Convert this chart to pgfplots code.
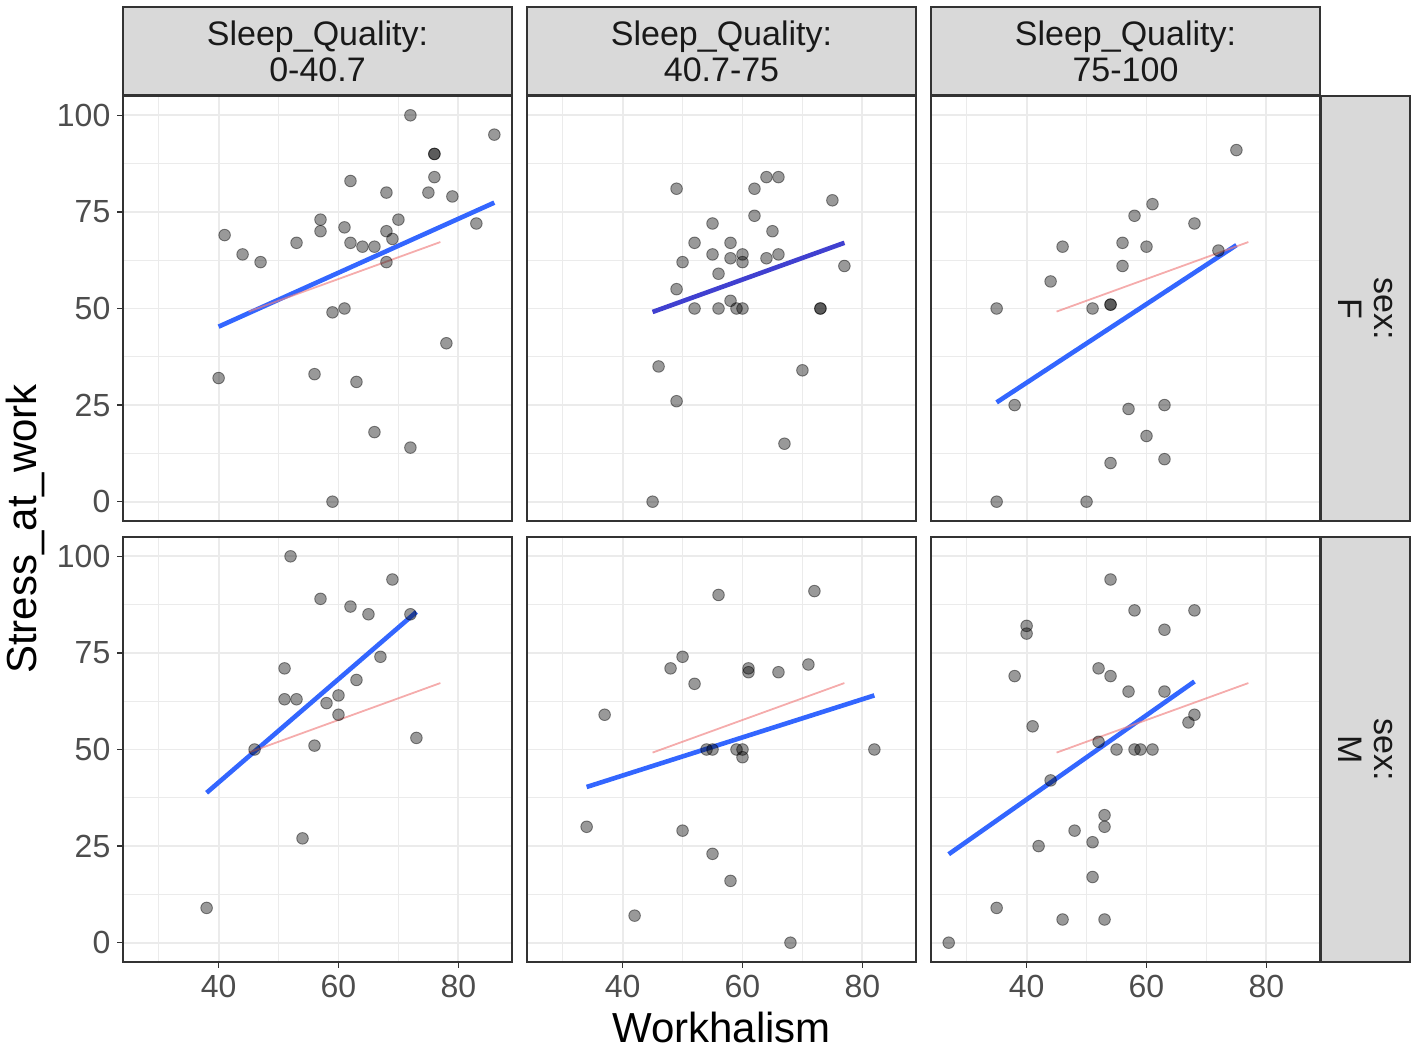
\documentclass[border=0pt]{standalone}
\usepackage{fontspec}
\setmainfont{Liberation Sans}
\usepackage{pgfplots}
\pgfplotsset{compat=1.18}
\definecolor{smoothc}{HTML}{3366FF}
\definecolor{smoothp}{HTML}{4040D0}
\definecolor{overallc}{HTML}{F08080}
\definecolor{gridc}{HTML}{EBEBEB}
\definecolor{borderc}{HTML}{333333}
\definecolor{tickc}{HTML}{4D4D4D}
\definecolor{stripc}{HTML}{D9D9D9}
\newcommand{\ticksize}{\fontsize{16}{16}\selectfont}
\newcommand{\stripsize}{\fontsize{17}{18}\selectfont}
\newcommand{\titlesize}{\fontsize{21}{21}\selectfont}
\pgfplotsset{
  facet/.style={
    scale only axis, width=194.5pt, height=212.5pt, anchor=south west,
    xmin=24.05, xmax=88.95, ymin=-5, ymax=105,
    xtick={40,60,80}, ytick={0,25,50,75,100},
    minor xtick={30,50,70}, minor ytick={12.5,37.5,62.5,87.5},
    grid=both,
    major grid style={draw=gridc, line width=0.9pt},
    minor grid style={draw=gridc, line width=0.5pt},
    axis line style={draw=borderc, line width=0.6pt},
    tick align=outside, major tick length=2.8pt, minor tick length=0pt,
    tick style={draw=borderc, line width=0.6pt},
    xtick pos=bottom, ytick pos=left,
    xticklabels={,,}, yticklabels={,,,,},
    xticklabel style={font=\ticksize, text=tickc},
    yticklabel style={font=\ticksize, text=tickc},
  },
  noxticks/.style={xtick style={draw=none}},
  noyticks/.style={ytick style={draw=none}},
  xlab/.style={xticklabels={40,60,80}},
  ylab/.style={yticklabels={0,25,50,75,100}},
  pts/.style={only marks, mark=*, mark size=2.9pt,
    mark options={fill=black, fill opacity=0.4, draw=black, draw opacity=0.45, line width=0.45pt}},
  fitline/.style={no marks, draw=smoothc, line width=2.3pt},
  overall/.style={no marks, draw=overallc, draw opacity=0.65, line width=0.9pt},
}
\begin{document}
\begin{tikzpicture}
\path[use as bounding box] (0pt,0pt) rectangle (708.5pt,525pt);

% ---------- Row 1: sex F ----------
\begin{axis}[facet, ylab, noxticks, at={(61.5pt,264.5pt)}]
\addplot[pts] coordinates {(72,100) (86,95) (76,90) (76,90) (76,84) (62,83) (68,80) (75,80) (79,79) (57,73) (70,73) (83,72) (41,69) (57,70) (61,71) (68,70) (69,68) (53,67) (62,67) (64,66) (66,66) (44,64) (47,62) (68,62) (59,49) (61,50) (78,41) (40,32) (56,33) (63,31) (66,18) (72,14) (59,0)};
\addplot[fitline] coordinates {(40,45.3) (86,77.4)};
\addplot[overall] coordinates {(45,49.2) (77,67.2)};
\end{axis}

\begin{axis}[facet, noxticks, noyticks, at={(263.5pt,264.5pt)}]
\addplot[pts] coordinates {(49,81) (64,84) (66,84) (62,81) (75,78) (62,74) (55,72) (65,70) (52,67) (58,67) (55,64) (60,64) (58,63) (60,62) (64,63) (66,64) (50,62) (77,61) (56,59) (49,55) (58,52) (52,50) (56,50) (59,50) (60,50) (73,50) (73,50) (46,35) (70,34) (49,26) (67,15) (45,0)};
\addplot[overall] coordinates {(45,49.2) (77,67.2)};
\addplot[no marks, draw=smoothp, line width=2.3pt] coordinates {(45,49.1) (77,67.0)};
\end{axis}

\begin{axis}[facet, noxticks, noyticks, at={(465.5pt,264.5pt)}]
\addplot[pts] coordinates {(75,91) (61,77) (58,74) (68,72) (46,66) (56,67) (60,66) (72,65) (56,61) (44,57) (35,50) (51,50) (54,51) (54,51) (38,25) (57,24) (63,25) (60,17) (63,11) (54,10) (35,0) (50,0)};
\addplot[fitline] coordinates {(35,25.7) (75,66.4)};
\addplot[overall] coordinates {(45,49.2) (77,67.2)};
\end{axis}

% ---------- Row 2: sex M ----------
\begin{axis}[facet, xlab, ylab, at={(61.5pt,44pt)}]
\addplot[pts] coordinates {(52,100) (69,94) (57,89) (62,87) (65,85) (72,85) (67,74) (51,71) (63,68) (51,63) (53,63) (60,64) (58,62) (60,59) (73,53) (56,51) (46,50) (54,27) (38,9)};
\addplot[fitline] coordinates {(38,38.8) (73,85.6)};
\addplot[overall] coordinates {(45,49.2) (77,67.2)};
\end{axis}

\begin{axis}[facet, xlab, noyticks, at={(263.5pt,44pt)}]
\addplot[pts] coordinates {(56,90) (72,91) (50,74) (48,71) (61,71) (61,70) (66,70) (71,72) (52,67) (37,59) (54,50) (55,50) (59,50) (60,50) (60,48) (82,50) (34,30) (50,29) (55,23) (58,16) (42,7) (68,0)};
\addplot[fitline] coordinates {(34,40.3) (82,64.0)};
\addplot[overall] coordinates {(45,49.2) (77,67.2)};
\end{axis}

\begin{axis}[facet, xlab, noyticks, at={(465.5pt,44pt)}]
\addplot[pts] coordinates {(54,94) (58,86) (68,86) (63,81) (40,82) (40,80) (38,69) (52,71) (54,69) (57,65) (63,65) (68,59) (67,57) (41,56) (52,52) (55,50) (58,50) (59,50) (61,50) (44,42) (53,33) (53,30) (48,29) (51,26) (42,25) (51,17) (35,9) (46,6) (53,6) (27,0)};
\addplot[fitline] coordinates {(27,22.9) (68,67.6)};
\addplot[overall] coordinates {(45,49.2) (77,67.2)};
\end{axis}

% ---------- strips ----------
\draw[fill=stripc, draw=borderc, line width=0.6pt] (61.5pt,477.5pt) rectangle (256pt,521.5pt);
\draw[fill=stripc, draw=borderc, line width=0.6pt] (263.5pt,477.5pt) rectangle (458pt,521.5pt);
\draw[fill=stripc, draw=borderc, line width=0.6pt] (465.5pt,477.5pt) rectangle (660pt,521.5pt);
\node[align=center, font=\stripsize, text=black!90] at (158.75pt,499.5pt) {Sleep\_Quality:\\0-40.7};
\node[align=center, font=\stripsize, text=black!90] at (360.75pt,499.5pt) {Sleep\_Quality:\\40.7-75};
\node[align=center, font=\stripsize, text=black!90] at (562.75pt,499.5pt) {Sleep\_Quality:\\75-100};

\draw[fill=stripc, draw=borderc, line width=0.6pt] (660.5pt,264.5pt) rectangle (705pt,477pt);
\draw[fill=stripc, draw=borderc, line width=0.6pt] (660.5pt,44pt) rectangle (705pt,256.5pt);
\node[align=center, rotate=-90, font=\stripsize, text=black!90] at (682.75pt,370.75pt) {sex:\\F};
\node[align=center, rotate=-90, font=\stripsize, text=black!90] at (682.75pt,150.25pt) {sex:\\M};

% ---------- axis titles ----------
\node[font=\titlesize] at (360.75pt,11.5pt) {Workhalism};
\node[font=\titlesize, rotate=90] at (12.5pt,260.5pt) {Stress\_at\_work};
\end{tikzpicture}
\end{document}
